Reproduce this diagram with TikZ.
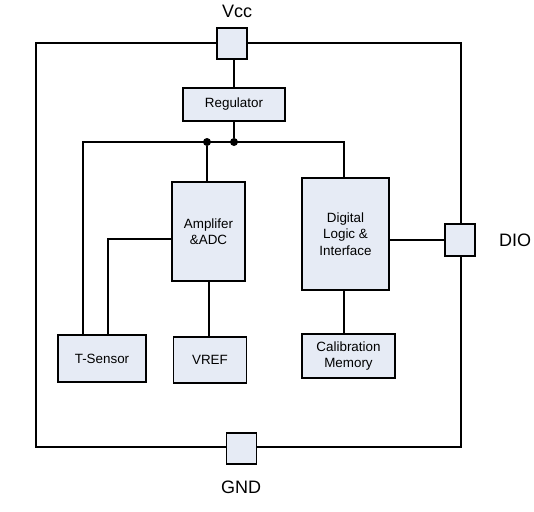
\documentclass[tikz,border=0pt]{standalone}
\usepackage{fontspec}
\setmainfont{Liberation Sans}
\usepackage{xcolor}
\usetikzlibrary{positioning,calc}
\definecolor{boxfill}{HTML}{E6EBF5}

\begin{document}
\begin{tikzpicture}[
  x=1pt, y=-1pt,
  box/.style={rectangle, draw, line width=1.1pt, fill=boxfill, font=\fontsize{13.4}{16.5}\selectfont, align=center, inner sep=0pt},
  pad/.style={rectangle, draw, line width=1.1pt, fill=boxfill, minimum width=30pt, minimum height=31pt, inner sep=0pt},
  pin/.style={font=\fontsize{18}{20}\selectfont},
  wire/.style={line width=1.2pt},
  dot/.style={circle, fill=black, minimum size=8pt, inner sep=0pt}
]
\useasboundingbox (0,0) rectangle (534,511);

% Chip outline
\draw[line width=2.6pt] (36,43) rectangle (461,447);

% Pins
\node[pad] (vccpad) at (232,43.5) {};
\node[pin] (vcc) at (237,11) {Vcc};
\node[pad, minimum height=32pt] (diopad) at (460,240) {};
\node[pin] (dio) at (515,240) {DIO};
\node[pad] (gndpad) at (241.5,448.5) {};
\node[pin] (gnd) at (241,487) {GND};

% Blocks
\node[box, minimum width=102pt, minimum height=33pt] (reg) at (234,104.5) {Regulator};
\node[box, minimum width=73pt, minimum height=99pt] (amp) at (208.5,231.5) {Amplifer\\\&ADC};
\node[box, minimum width=87pt, minimum height=112pt] (dig) at (345.5,234) {Digital\\Logic \&\\Interface};
\node[box, minimum width=88pt, minimum height=47pt] (tsen) at (102,358.5) {T-Sensor};
\node[box, minimum width=73pt, minimum height=46pt] (vref) at (210,360) {VREF};
\node[box, minimum width=93pt, minimum height=44pt] (cal) at (348.5,356) {Calibration\\Memory};

% Supply bus
\coordinate (busl) at (83,142);
\coordinate (busr) at (344,142);
\node[dot] (j1) at (207,142) {};
\node[dot] (j2) at (234,142) {};
\coordinate (tap) at (108,239);
\coordinate (vtap) at (209,310);

% Wires
\draw[wire] (vccpad.south -| reg.north) -- (reg.north);
\draw[wire] (reg.south) -- (j2);
\draw[wire] (busl |- tsen.north) -- (busl) -- (busr) -- (busr |- dig.north);
\draw[wire] (j1) -- (j1 |- amp.north);
\draw[wire] (amp.west |- tap) -- (tap) -- (tap |- tsen.north);
\draw[wire] (vtap |- amp.south) -- (vtap |- vref.north);
\draw[wire] (diopad.west) -- (diopad.west -| dig.east);
\draw[wire] (busr |- dig.south) -- (busr |- cal.north);

\end{tikzpicture}
\end{document}
